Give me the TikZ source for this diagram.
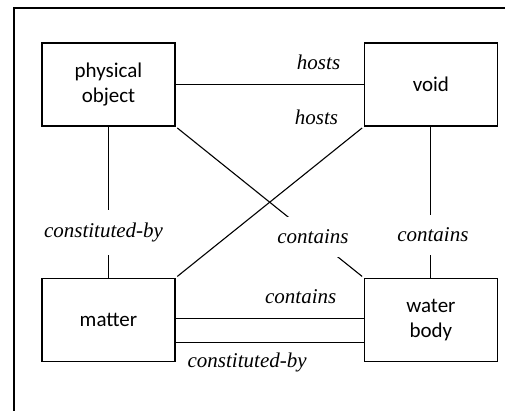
\documentclass[tikz,border=0pt]{standalone}
\usepackage{fontspec}
\setmainfont{Liberation Serif}
\newfontfamily\boxfont{Carlito}
\usetikzlibrary{positioning}
\tikzset{
	entity/.style={draw, line width=1.4pt, minimum width=133pt, minimum height=83pt, align=center, font=\boxfont\fontsize{21}{25}\selectfont},
	rel/.style={font=\itshape\fontsize{21}{25}\selectfont, inner sep=1pt},
	cut/.style={rel, fill=white, inner xsep=2pt, inner ysep=13pt},
	link/.style={line width=1.1pt}
}

\begin{document}
\begin{tikzpicture}[x=1pt, y=1pt]
		%%%%% START %%%%%
		
		\useasboundingbox (0, 0) rectangle (505, 410);
		\draw[line width=1.5pt] (14, 402) rectangle (540, -30);
		
		\node[entity] (phys) at (108.5, 325.5) {physical\\object};
		\node[entity, right=188pt of phys] (void) {void};
		\node[entity, below=151pt of phys] (matter) {matter};
		\node[entity, right=188pt of matter] (water) {water\\body};
		
		\draw[link] (phys) -- (void) node[rel, pos=0.76, above=13pt] (hostsA) {hosts};
		\draw[link, shorten <=2pt, shorten >=2pt] (void.south west) -- (matter.north east)
			node[rel, pos=0, anchor=base east, xshift=-24pt, yshift=2pt] (hostsB) {hosts};
		
		\draw[link] (phys) -- (matter) node[cut, pos=0.7, xshift=-5pt] (constA) {constituted-by};
		\draw[link, shorten <=2pt, shorten >=2pt] (phys.south east) -- (water.north west)
			node[cut, pos=0.73] (containsA) {contains};
		\draw[link] (void) -- (water) node[cut, pos=0.715, xshift=2pt] (containsB) {contains};
		
		\draw[link] ([yshift=1.5pt]matter.east) -- ([yshift=1.5pt]water.west)
			node[rel, pos=0.665, above=13pt] (containsC) {contains};
		\draw[link] ([yshift=-22.5pt]matter.east) -- ([yshift=-22.5pt]water.west)
			node[rel, pos=0.38, below=9pt] (constB) {constituted-by};
		
		%%%%% END %%%%%
	\end{tikzpicture}
\end{document}
